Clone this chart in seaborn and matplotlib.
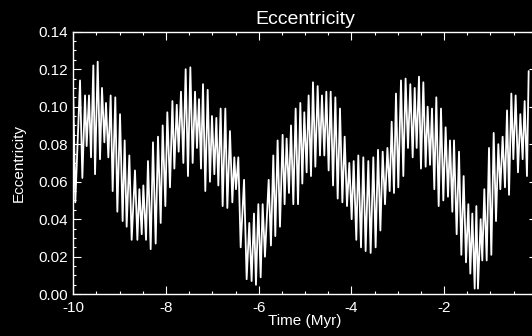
"""
Eccentricity over the last 10 Myr, drawn white on black.
"""

import matplotlib
import matplotlib.pyplot as plt
import pandas as pd
import seaborn as sns
from matplotlib.ticker import FormatStrFormatter, MultipleLocator

matplotlib.use("Agg")

# Successive peaks and troughs
TIME_MYR = [
    -10.000, -9.957, -9.855, -9.805, -9.747, -9.712, -9.661, -9.618, -9.568, -9.531,
    -9.474, -9.424, -9.381, -9.330, -9.295, -9.244, -9.194, -9.151, -9.094, -9.050,
    -8.992, -8.936, -8.892, -8.849, -8.791, -8.741, -8.669, -8.618, -8.575, -8.524,
    -8.489, -8.431, -8.389, -8.331, -8.281, -8.223, -8.173, -8.115, -8.072, -8.014,
    -7.972, -7.914, -7.862, -7.820, -7.768, -7.727, -7.677, -7.626, -7.576, -7.526,
    -7.475, -7.425, -7.374, -7.332, -7.288, -7.245, -7.202, -7.152, -7.101, -7.052,
    -7.008, -6.957, -6.914, -6.871, -6.821, -6.778, -6.720, -6.677, -6.620, -6.569,
    -6.526, -6.490, -6.440, -6.389, -6.316, -6.260, -6.203, -6.153, -6.102, -6.059,
    -6.008, -5.958, -5.915, -5.865, -5.785, -5.736, -5.685, -5.642, -5.592, -5.541,
    -5.484, -5.441, -5.398, -5.347, -5.303, -5.253, -5.203, -5.152, -5.102, -5.059,
    -5.016, -4.966, -4.923, -4.872, -4.829, -4.778, -4.728, -4.678, -4.635, -4.584,
    -4.541, -4.491, -4.447, -4.396, -4.346, -4.296, -4.246, -4.195, -4.145, -4.095,
    -4.045, -3.994, -3.951, -3.894, -3.851, -3.793, -3.743, -3.693, -3.635, -3.585,
    -3.527, -3.477, -3.426, -3.375, -3.325, -3.275, -3.223, -3.174, -3.131, -3.081,
    -3.038, -2.988, -2.930, -2.880, -2.831, -2.779, -2.729, -2.678, -2.634, -2.592,
    -2.542, -2.499, -2.448, -2.398, -2.355, -2.304, -2.261, -2.211, -2.168, -2.117,
    -2.067, -2.017, -1.967, -1.916, -1.873, -1.822, -1.786, -1.729, -1.678, -1.628,
    -1.578, -1.527, -1.477, -1.434, -1.391, -1.340, -1.304, -1.269, -1.211, -1.176,
    -1.132, -1.081, -1.031, -0.981, -0.930, -0.880, -0.830, -0.787, -0.737, -0.686,
    -0.642, -0.599, -0.549, -0.506, -0.456, -0.406, -0.355, -0.305, -0.262, -0.212,
    -0.175,
]

ECCENTRICITY = [
    0.105, 0.049, 0.114, 0.062, 0.106, 0.079, 0.106, 0.073, 0.122, 0.064,
    0.124, 0.072, 0.110, 0.081, 0.102, 0.073, 0.106, 0.055, 0.105, 0.044,
    0.096, 0.039, 0.082, 0.036, 0.074, 0.029, 0.066, 0.029, 0.056, 0.032,
    0.058, 0.029, 0.071, 0.024, 0.081, 0.027, 0.084, 0.038, 0.090, 0.047,
    0.097, 0.057, 0.103, 0.067, 0.101, 0.076, 0.108, 0.070, 0.120, 0.063,
    0.121, 0.070, 0.108, 0.078, 0.104, 0.067, 0.112, 0.055, 0.109, 0.060,
    0.095, 0.064, 0.094, 0.058, 0.099, 0.047, 0.099, 0.046, 0.087, 0.049,
    0.073, 0.056, 0.073, 0.025, 0.061, 0.008, 0.038, 0.007, 0.043, 0.005,
    0.048, 0.009, 0.048, 0.020, 0.061, 0.026, 0.074, 0.031, 0.082, 0.036,
    0.085, 0.048, 0.083, 0.054, 0.090, 0.048, 0.099, 0.048, 0.102, 0.059,
    0.097, 0.065, 0.106, 0.063, 0.113, 0.068, 0.111, 0.074, 0.106, 0.074,
    0.108, 0.066, 0.108, 0.058, 0.105, 0.051, 0.099, 0.049, 0.084, 0.047,
    0.070, 0.040, 0.071, 0.029, 0.074, 0.025, 0.073, 0.023, 0.071, 0.022,
    0.073, 0.025, 0.077, 0.034, 0.076, 0.048, 0.078, 0.055, 0.092, 0.054,
    0.107, 0.057, 0.114, 0.063, 0.115, 0.078, 0.112, 0.073, 0.110, 0.078,
    0.116, 0.067, 0.113, 0.068, 0.100, 0.069, 0.099, 0.056, 0.105, 0.047,
    0.099, 0.050, 0.089, 0.052, 0.082, 0.044, 0.082, 0.032, 0.076, 0.021,
    0.063, 0.017, 0.048, 0.011, 0.043, 0.003, 0.047, 0.003, 0.040, 0.018,
    0.056, 0.018, 0.078, 0.021, 0.086, 0.039, 0.080, 0.056, 0.084, 0.057,
    0.098, 0.053, 0.107, 0.072, 0.106, 0.065, 0.096, 0.072, 0.103, 0.063,
    0.119,
]

X_TICKS = [-10, -8, -6, -4, -2]

sns.set_theme(style="dark")
plt.rcParams.update({
    "font.family": ["Liberation Sans", "DejaVu Sans"],
    "axes.unicode_minus": False,
    "figure.facecolor": "black",
    "axes.facecolor": "black",
    "axes.edgecolor": "white",
    "axes.labelcolor": "white",
    "text.color": "white",
    "xtick.color": "white",
    "ytick.color": "white",
})

df = pd.DataFrame({"time": TIME_MYR, "ecc": ECCENTRICITY})

fig = plt.figure(figsize=(5.32, 3.36), dpi=100)
# right edge runs just past the canvas, as in the cropped original
ax = fig.add_axes([0.1378, 0.1244, 0.8712, 0.7813])

sns.lineplot(data=df, x="time", y="ecc", ax=ax, color="white",
             linewidth=1.3, estimator=None, sort=False)

ax.set_xlim(-10, 0)
ax.set_ylim(0, 0.14)
ax.grid(False)

ax.set_xticks(X_TICKS)
ax.xaxis.set_minor_locator(MultipleLocator(0.5))
ax.yaxis.set_major_locator(MultipleLocator(0.02))
ax.yaxis.set_minor_locator(MultipleLocator(0.005))
ax.yaxis.set_major_formatter(FormatStrFormatter("%.2f"))

ax.tick_params(which="both", direction="in", top=True, right=True,
               bottom=True, left=True, width=0.8, labelsize=11)
ax.tick_params(which="major", length=5.5)
ax.tick_params(which="minor", length=2.5)
ax.tick_params(axis="x", pad=5)
ax.tick_params(axis="y", pad=4)

for spine in ax.spines.values():
    spine.set_color("white")
    spine.set_linewidth(1.0)

ax.set_title("Eccentricity", fontsize=14, pad=5.7)
ax.set_xlabel("Time (Myr)", fontsize=11, labelpad=-1)
ax.set_ylabel("Eccentricity", fontsize=11, labelpad=9)

fig.savefig("out.png", dpi=100, facecolor="black")
plt.close(fig)
